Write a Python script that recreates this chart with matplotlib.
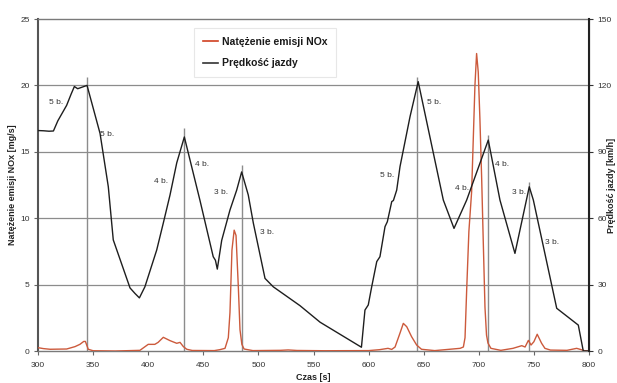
import matplotlib
matplotlib.use("Agg")
import matplotlib.pyplot as plt
from matplotlib.lines import Line2D

plt.rcParams['font.family'] = ['Liberation Sans', 'DejaVu Sans']

# Vehicle speed [km/h] over time [s]
t_speed = [300, 305, 310, 314, 318, 322, 326, 330, 333, 336, 340, 344.5, 356.3, 363.8,
           368.3, 383.5, 388, 392, 397, 407.7, 413.7, 419.8, 425.9, 432.8, 447, 459, 461,
           462.7, 466.7, 474.2, 480.3, 484.8, 490.8, 495.4, 506, 513.5, 537.7, 556, 593.5,
           596.7, 599.7, 602.8, 607.4, 610.3, 614.9, 617, 621, 622.5, 625.5, 628.5, 637.6,
           645, 667.8, 677.5, 689, 708.6, 719.2, 732.8, 745.8, 749.5, 770.7, 790.3, 794.8, 800]
speed = [99.6, 99.5, 99.3, 99.4, 104, 107.5, 111, 116, 119.5, 118.5, 119.2, 120, 98.3, 74.2,
         50.2, 28.5, 26, 24, 29, 45.6, 57.8, 70.5, 85, 96.7, 68, 42.6, 41,
         37, 50, 63.7, 72.7, 80.9, 70.5, 57.8, 32.8, 29, 20.5, 13, 1.7,
         18.5, 20.8, 29, 40.4, 42.6, 56.2, 58.4, 67.5, 68, 72.7, 83.3, 105.9,
         121.7, 68.2, 55.4, 68.2, 95.3, 68.2, 44.1, 74.2, 68.2, 19.3, 11.7, 0, 0]

# NOx emission rate [mg/s] over time [s]
t_nox = [300, 305, 311, 318, 326, 333.6, 338, 341.5, 343, 345.6, 350, 370, 392.5, 400, 406,
         409, 413.7, 419.8, 425.9, 428.9, 431.9, 435, 440, 460, 465, 469.7, 472.7, 474.2,
         476, 478, 479.7, 481.8, 483.3, 485, 487, 495, 520, 527, 535, 560, 600, 610, 617.6,
         621, 624, 628.5, 631.5, 634.6, 639, 643.6, 648, 660, 683, 686, 687.5, 689, 691,
         693.5, 695, 696.5, 698, 699.5, 701, 702.6, 704, 705.6, 707, 708.3, 711, 720, 731,
         735, 739, 742, 745, 747.4, 750, 753, 757, 760, 765, 780, 788.8, 793, 796, 800]
nox = [0.25, 0.18, 0.13, 0.14, 0.15, 0.33, 0.5, 0.72, 0.72, 0.13, 0.02, 0.0, 0.05, 0.5, 0.5,
       0.65, 1.03, 0.78, 0.58, 0.65, 0.33, 0.13, 0.04, 0.03, 0.1, 0.2, 1.0, 2.9,
       7.6, 9.1, 8.7, 4.8, 1.6, 0.5, 0.15, 0.03, 0.05, 0.08, 0.04, 0.02, 0.03, 0.1, 0.2,
       0.12, 0.3, 1.35, 2.08, 1.83, 1.08, 0.45, 0.13, 0.03, 0.2, 0.3, 1.0, 4.6, 9.0,
       12.0, 16.0, 20.0, 22.4, 21.0, 17.5, 13.0, 8.4, 3.3, 1.2, 0.6, 0.2, 0.05, 0.2,
       0.3, 0.4, 0.3, 0.8, 0.45, 0.7, 1.26, 0.58, 0.2, 0.07, 0.05, 0.2, 0.1, 0.02, 0.0]

# Gear-change markers: time and line height (left-axis units)
shift_t = [344.7, 432.8, 484.8, 644.2, 708.1, 745.9]
shift_top = [20.6, 16.8, 14.0, 20.6, 16.3, 12.7]

# Gear labels
gear_text = ["5 b.", "5 b.", "4 b.", "4 b.", "3 b.", "3 b.",
             "5 b.", "5 b.", "4 b.", "4 b.", "3 b.", "3 b."]
gear_t = [316.6, 362.6, 411.6, 448.8, 466.5, 507.8, 616.7, 659.1, 684.8, 721.1, 736.9, 766.4]
gear_y = [18.73, 16.34, 12.8, 14.08, 11.9, 8.96, 13.18, 18.73, 12.27, 14.08, 11.9, 8.19]

x_ticks = [300, 350, 400, 450, 500, 550, 600, 650, 700, 750, 800]
y_ticks = [0, 5, 10, 15, 20, 25]
y2_ticks = [0, 30, 60, 90, 120, 150]

NOX_COLOR = '#cc5a3c'
GRID = '#8c8c8c'
TXT = '#333333'

fig = plt.figure(figsize=(6.17, 3.83), dpi=100)
ax = fig.add_axes([38 / 617, 1 - 351 / 383, 551 / 617, 332 / 383])
ax2 = ax.twinx()

ax.set_xlim(300, 800)
ax.set_ylim(0, 25)
ax2.set_ylim(0, 150)

for v in y_ticks[1:-1]:
    ax.axhline(v, color=GRID, lw=0.9, zorder=1)

ax.vlines(shift_t, 0, shift_top, color=GRID, lw=1.0, zorder=2)

ax.plot(t_nox, nox, color=NOX_COLOR, lw=1.0, zorder=3)
ax2.plot(t_speed, speed, color='#1e1e1e', lw=1.0, zorder=3)

for s, tx, ty in zip(gear_text, gear_t, gear_y):
    ax2.text(tx, ty * 6, s, fontsize=6, color=TXT, ha='center', va='center', zorder=4)

ax.set_xticks(x_ticks)
ax.set_yticks(y_ticks)
ax2.set_yticks(y2_ticks)
ax.tick_params(axis='both', labelsize=6, labelcolor=TXT, color='#666666',
               length=3, width=0.8, direction='out', pad=3)
ax.tick_params(axis='x', pad=5)
ax2.tick_params(axis='y', labelsize=6, labelcolor=TXT, color='#333333',
                length=3, width=0.8, direction='out', pad=3)

for sp in ['top', 'bottom']:
    ax.spines[sp].set_color('#7a7a7a')
    ax.spines[sp].set_linewidth(1.0)
ax.spines['left'].set_color('#555555')
ax.spines['left'].set_linewidth(1.5)
ax2.spines['right'].set_color('#222222')
ax2.spines['right'].set_linewidth(1.5)
for sp in ['top', 'bottom', 'left']:
    ax2.spines[sp].set_visible(False)

ax.set_xlabel('Czas [s]', fontsize=6.5, fontweight='bold', color='#222222', labelpad=3)
ax.set_ylabel('Natężenie emisji NOx [mg/s]', fontsize=6.5, fontweight='bold',
              color='#222222', labelpad=2)
fig.text(611.5 / 617, 1 - 185 / 383, 'Prędkość jazdy [km/h]', rotation=90,
         fontsize=6.5, fontweight='bold', color='#222222', ha='center', va='center')

handles = [Line2D([], [], color='#d04020', lw=1.2),
           Line2D([], [], color='#333333', lw=1.2)]
leg = ax2.legend(handles, ['Natężenie emisji NOx', 'Prędkość jazdy'],
                 loc='upper left', bbox_to_anchor=(0.283, 0.973), borderaxespad=0,
                 prop={'size': 7.5, 'weight': 'bold'}, frameon=True, fancybox=False,
                 handlelength=1.5, handletextpad=0.3, labelspacing=1.1, borderpad=0.85)
leg.get_frame().set_edgecolor('#e2e2e2')
leg.get_frame().set_linewidth(0.8)
for t in leg.get_texts():
    t.set_color('#1a1a1a')

fig.savefig('out.png', dpi=100)
